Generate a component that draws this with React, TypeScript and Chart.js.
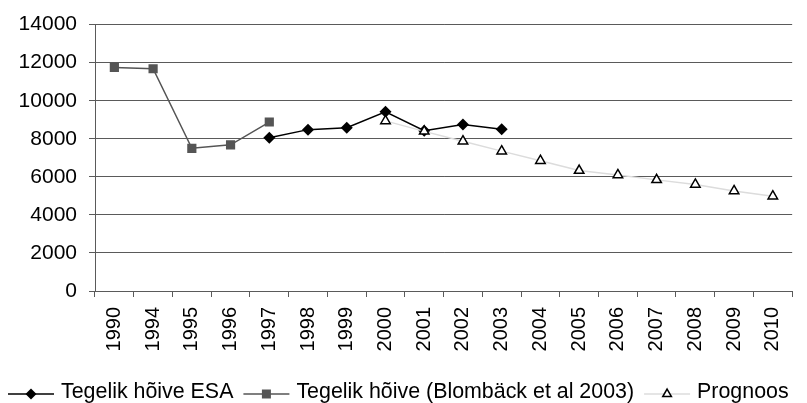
import React, { useEffect, useRef } from "react";
import { Chart, registerables } from "chart.js";

Chart.register(...registerables);

const categories = ["1990", "1994", "1995", "1996", "1997", "1998", "1999", "2000", "2001", "2002", "2003", "2004", "2005", "2006", "2007", "2008", "2009", "2010"];
const esaValues = [null, null, null, null, 8050, 8480, 8580, 9420, 8420, 8750, 8500, null, null, null, null, null, null, null];
const blombackValues = [11750, 11680, 7500, 7680, 8880, null, null, null, null, null, null, null, null, null, null, null, null, null];
const prognoosValues = [null, null, null, null, null, null, null, 8940, 8390, 7870, 7350, 6850, 6330, 6100, 5840, 5600, 5260, 4980];
const seriesNames = ["Tegelik hõive ESA", "Tegelik hõive (Blombäck et al 2003)", "Prognoos"];
const yTicks = [0, 2000, 4000, 6000, 8000, 10000, 12000, 14000];

const FONT = '"Liberation Sans", Arial, sans-serif';
const GRID = "#5a5a5a";

function drawMarker(ctx: CanvasRenderingContext2D, kind: string, x: number, y: number) {
  ctx.save();
  ctx.beginPath();
  if (kind === "diamond") {
    const r = 5.5;
    ctx.moveTo(x, y - r);
    ctx.lineTo(x + r, y);
    ctx.lineTo(x, y + r);
    ctx.lineTo(x - r, y);
    ctx.closePath();
    ctx.fillStyle = "#000";
    ctx.fill();
  } else if (kind === "square") {
    const s = 4.5;
    ctx.rect(x - s, y - s, 2 * s, 2 * s);
    ctx.fillStyle = "#555";
    ctx.fill();
  } else {
    const r = 5;
    ctx.moveTo(x, y - r);
    ctx.lineTo(x + r * 0.866, y + r * 0.5);
    ctx.lineTo(x - r * 0.866, y + r * 0.5);
    ctx.closePath();
    ctx.fillStyle = "#fff";
    ctx.fill();
    ctx.lineWidth = 1.5;
    ctx.strokeStyle = "#000";
    ctx.stroke();
  }
  ctx.restore();
}

const legendPlugin = {
  id: "customLegend",
  afterDraw(chart: any) {
    const ctx: CanvasRenderingContext2D = chart.ctx;
    const items = [
      { name: seriesNames[0], color: "#000", width: 1.5, marker: "diamond" },
      { name: seriesNames[1], color: "#555", width: 1.5, marker: "square" },
      { name: seriesNames[2], color: "#dcdcdc", width: 1.5, marker: "triangle" },
    ];
    ctx.save();
    ctx.font = "21.4px " + FONT;
    ctx.textBaseline = "alphabetic";
    ctx.fillStyle = "#000";
    let x = 8;
    const lineY = 394;
    for (const it of items) {
      ctx.beginPath();
      ctx.strokeStyle = it.color;
      ctx.lineWidth = it.width;
      ctx.moveTo(x, lineY);
      ctx.lineTo(x + 46, lineY);
      ctx.stroke();
      drawMarker(ctx, it.marker, x + 23, lineY);
      const tx = x + 53;
      ctx.fillText(it.name, tx, 398);
      x = tx + ctx.measureText(it.name).width + 10;
    }
    ctx.restore();
  },
};

export default function App() {
  const canvasRef = useRef<HTMLCanvasElement | null>(null);

  useEffect(() => {
    if (!canvasRef.current) return;
    const chart = new Chart(canvasRef.current, {
      type: "line",
      data: {
        labels: categories,
        datasets: [
          {
            label: seriesNames[0],
            data: esaValues,
            borderColor: "#000",
            backgroundColor: "#000",
            borderWidth: 1.5,
            pointStyle: "rectRot",
            pointRadius: 6,
            pointBorderWidth: 0,
            pointBackgroundColor: "#000",
            spanGaps: false,
            order: 1,
          },
          {
            label: seriesNames[1],
            data: blombackValues,
            borderColor: "#555",
            backgroundColor: "#555",
            borderWidth: 1.5,
            pointStyle: "rect",
            pointRadius: 6.5,
            pointBorderWidth: 0,
            pointBackgroundColor: "#555",
            spanGaps: false,
            order: 2,
          },
          {
            label: seriesNames[2],
            data: prognoosValues,
            borderColor: "#dcdcdc",
            backgroundColor: "#fff",
            borderWidth: 1.5,
            pointStyle: "triangle",
            pointRadius: 5.5,
            pointBorderWidth: 1.5,
            pointBorderColor: "#000",
            pointBackgroundColor: "#fff",
            spanGaps: false,
            order: 0,
          },
        ],
      },
      options: {
        animation: false,
        responsive: true,
        maintainAspectRatio: false,
        events: [],
        layout: { padding: { top: 21, right: 5, left: 0, bottom: 0 } },
        plugins: {
          legend: { display: false },
          tooltip: { enabled: false },
        },
        scales: {
          x: {
            type: "category",
            offset: true,
            grid: {
              display: true,
              drawOnChartArea: false,
              drawTicks: true,
              tickLength: 6,
              color: GRID,
              offset: true,
            },
            border: { display: true, color: GRID, width: 1 },
            ticks: {
              minRotation: 90,
              maxRotation: 90,
              autoSkip: false,
              padding: 10,
              color: "#000",
              font: { family: FONT, size: 20 },
            },
            afterFit(scale: any) {
              scale.height = 112;
            },
          },
          y: {
            min: 0,
            max: 14000,
            afterBuildTicks(scale: any) {
              scale.ticks = yTicks.map((v) => ({ value: v }));
            },
            grid: {
              display: true,
              color: GRID,
              lineWidth: 1,
              drawTicks: true,
              tickLength: 6,
            },
            border: { display: true, color: GRID, width: 1 },
            ticks: {
              padding: 12,
              color: "#000",
              font: { family: FONT, size: 21 },
              callback: (v: any) => String(v),
            },
            afterFit(scale: any) {
              scale.width = 95;
            },
          },
        },
      },
      plugins: [legendPlugin],
    });
    return () => chart.destroy();
  }, []);

  return (
    <div style={{ position: "absolute", left: 0, top: 0, width: 807, height: 403, background: "#fff" }}>
      <canvas ref={canvasRef} />
    </div>
  );
}
